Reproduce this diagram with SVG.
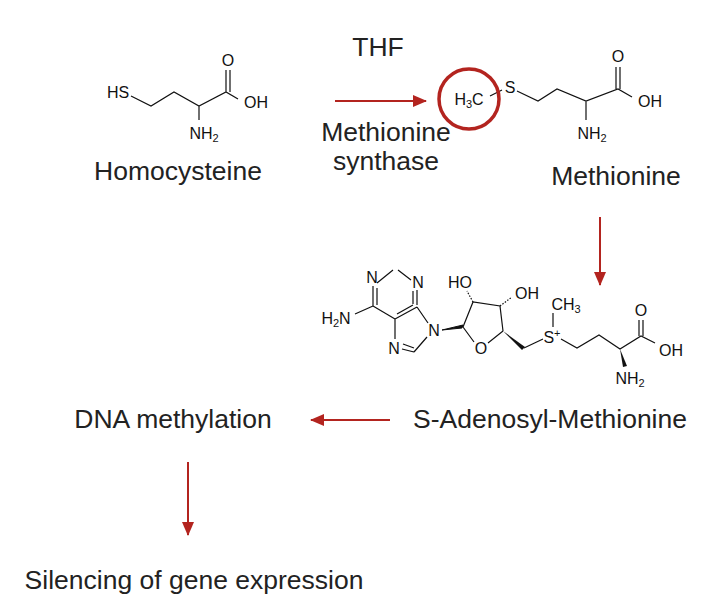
<svg xmlns="http://www.w3.org/2000/svg" width="717" height="611" viewBox="0 0 717 611">
<defs>
<marker id="ah" markerWidth="14" markerHeight="12" refX="13" refY="6" orient="auto" markerUnits="userSpaceOnUse"><path d="M0,0 L14,6 L0,12 Z" fill="#b3241f"/></marker>
<style>
.lbl{font-family:"Liberation Sans",Arial,sans-serif;font-size:26.5px;fill:#222;text-anchor:middle}
.at{font-family:"Liberation Sans",Arial,sans-serif;font-size:16px;fill:#111;text-anchor:middle}
.b{stroke:#111;stroke-width:1.2;fill:none}
.arr{stroke:#b3241f;stroke-width:2;fill:none;marker-end:url(#ah)}
</style>
</defs>
<rect width="717" height="611" fill="#fff"/>
<g id="homocysteine">
<text class="at" x="118" y="98">HS</text>
<path class="b" d="M131,96 L151,106 L174,92 L199,106 L226,92 L238,99 M199,106 L199,120 M226,92 L226,70 M230,92 L230,70"/>
<text class="at" x="228" y="66">O</text>
<text class="at" x="256" y="108">OH</text>
<text class="at" x="204" y="139">NH<tspan font-size="11" dy="3">2</tspan></text>
<text class="lbl" x="178" y="180">Homocysteine</text>
</g>
<g id="enzyme">
<text class="lbl" x="378" y="56">THF</text>
<text class="lbl" x="386" y="141">Methionine</text>
<text class="lbl" x="386" y="170">synthase</text>
</g>
<g id="methionine">
<text class="at" x="469" y="105">H<tspan font-size="11" dy="3">3</tspan><tspan dy="-3">C</tspan></text>
<path class="b" d="M490,96 L502,90 M517,91 L538,101 L557,89 L586,101 L618,89 L632,97 M586,101 L586,120 M616,89 L616,67 M620,89 L620,67"/>
<text class="at" x="510" y="93">S</text>
<text class="at" x="618" y="62">O</text>
<text class="at" x="650" y="107">OH</text>
<text class="at" x="592" y="139">NH<tspan font-size="11" dy="3">2</tspan></text>
<circle cx="469" cy="99" r="30" fill="none" stroke="#b3241f" stroke-width="3.5"/>
<text class="lbl" x="616" y="185">Methionine</text>
</g>
<g id="sam">
<path class="b" d="M377,283 L393,270 M398,270 L411,280 M417,290 L417,305 M413,291 L413,304 M417,307 L395,319 M413,305 L397,314 M395,319 L373,306 M373,306 L373,286 M377,305 L377,288 M417,307 L428,323 M395,319 L395,339 M402,349 L414,352 M403,344 L414,348 M414,352 L427,337 M373,306 L355,314"/>
<path d="M442,330 L463,325 L462,328 Z" fill="#111" stroke="#111"/>
<path class="b" d="M463,327 L474,342 M488,343 L503,331 M503,331 L500,306 L473,302 L463,327"/>
<path class="b" d="M473,302 L467,291 M500,306 L512,297" stroke-dasharray="1.5,1.5" stroke-width="4"/>
<path d="M503,331 L525,347 L522,350 Z" fill="#111"/>
<path class="b" d="M524,348 L543,339 M553,327 L553,313 M561,339 L577,348 L599,335 L620,349 L641,336 L655,343 M639,336 L639,320 M643,336 L643,320"/>
<path d="M620,349 L627,366 L623,367 Z" fill="#111"/>
<text class="at" x="372" y="283">N</text>
<text class="at" x="418" y="288">N</text>
<text class="at" x="336" y="324">H<tspan font-size="11" dy="3">2</tspan><tspan dy="-3">N</tspan></text>
<text class="at" x="434" y="336">N</text>
<text class="at" x="394" y="354">N</text>
<text class="at" x="460" y="288">HO</text>
<text class="at" x="527" y="299">OH</text>
<text class="at" x="481" y="354">O</text>
<text class="at" x="566" y="310">CH<tspan font-size="11" dy="3">3</tspan></text>
<text class="at" x="552" y="343">S<tspan font-size="11" dy="-6">+</tspan></text>
<text class="at" x="641" y="316">O</text>
<text class="at" x="671" y="356">OH</text>
<text class="at" x="630" y="384">NH<tspan font-size="11" dy="3">2</tspan></text>
<text class="lbl" x="550" y="428">S-Adenosyl-Methionine</text>
</g>
<g id="dna">
<text class="lbl" x="173" y="428">DNA methylation</text>
</g>
<g id="silencing">
<text class="lbl" x="194" y="589">Silencing of gene expression</text>
</g>
<g id="connectors">
<path class="arr" d="M335,101 L426,101"/>
<path class="arr" d="M600,217 L600,285"/>
<path class="arr" d="M390,420 L311,420"/>
<path class="arr" d="M188,462 L188,535"/>
</g>
</svg>
